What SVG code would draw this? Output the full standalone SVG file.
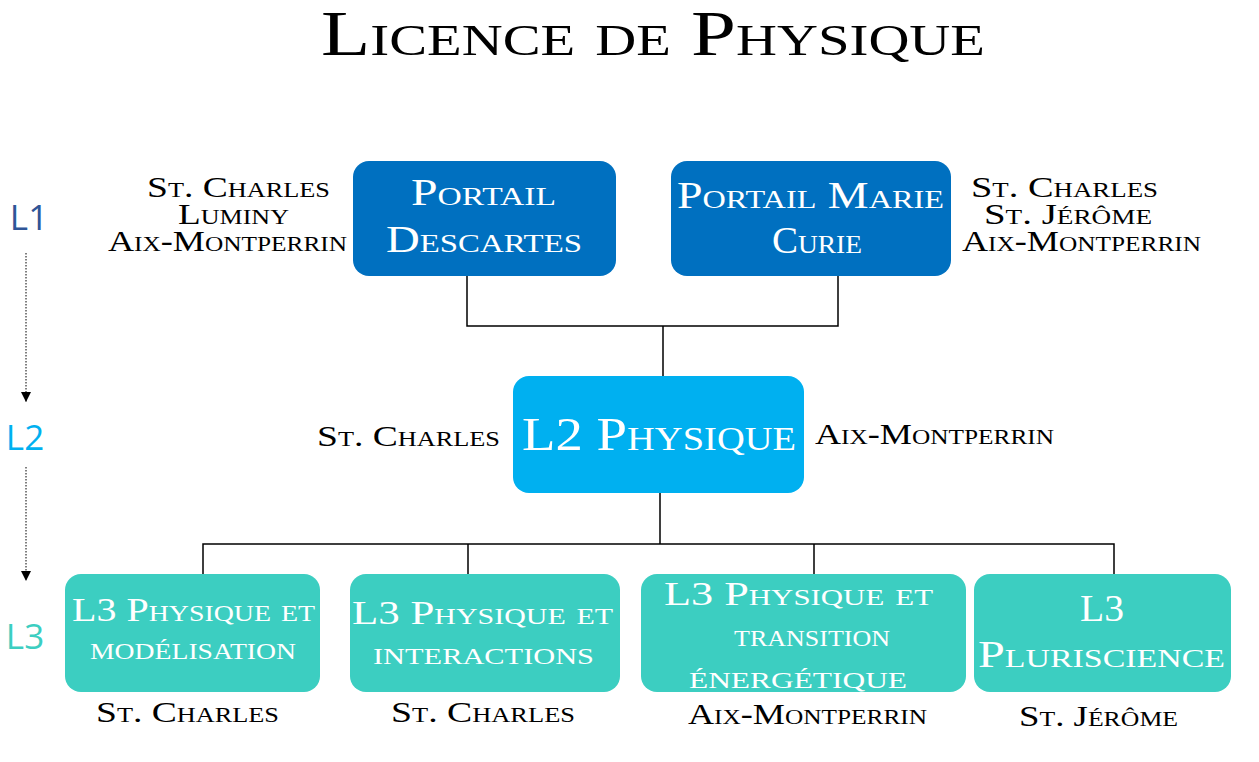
<svg xmlns="http://www.w3.org/2000/svg" width="1259" height="762" viewBox="0 0 1259 762">
<defs>
<style>
.sc{font-family:"Liberation Serif","DejaVu Serif",serif;font-variant:small-caps;}
.lab{font-size:30px;fill:#000;}
.in{fill:#fff;}
.lvl{font-family:"Open Sans","Liberation Sans",sans-serif;font-size:35px;}
.c{stroke:#000;stroke-width:1.5;fill:none;}
.dot{stroke:#000;stroke-width:1;stroke-dasharray:1.5 1.5;fill:none;}
.b1{fill:#0070C0;}
.b2{fill:#00B0F0;}
.b3{fill:#3CCEC1;}
</style>
<marker id="ah" viewBox="0 0 10 10" refX="10" refY="5" markerWidth="10" markerHeight="10" markerUnits="userSpaceOnUse" orient="auto">
<path d="M0,0 L10,5 L0,10 Z" fill="#000"/>
</marker>
</defs>
<rect width="1259" height="762" fill="#fff"/>
<text class="sc" x="321" y="55" font-size="64" textLength="664" lengthAdjust="spacingAndGlyphs">Licence de Physique</text>

<g id="levels">
<text class="lvl" x="29" y="230" text-anchor="middle" fill="#2F5597">L1</text>
<text class="lvl" x="25" y="450" text-anchor="middle" fill="#00B0F0">L2</text>
<text class="lvl" x="25" y="649" text-anchor="middle" fill="#3CCEC1">L3</text>
<path class="dot" d="M26,253 V402" marker-end="url(#ah)"/>
<path class="dot" d="M26,467 V581" marker-end="url(#ah)"/>
</g>

<g id="connectors">
<path class="c" d="M467,276 V326 H838 V276 M663,326 V376"/>
<path class="c" d="M660,493 V544 M203,574 V544 H1114 V574 M468,544 V574 M814,544 V574"/>
</g>

<g id="portail-descartes">
<rect class="b1" x="353" y="161" width="263" height="115" rx="16"/>
<text class="sc in" x="411" y="205" font-size="37" textLength="145" lengthAdjust="spacingAndGlyphs">Portail</text>
<text class="sc in" x="386" y="252" font-size="37" textLength="196" lengthAdjust="spacingAndGlyphs">Descartes</text>
<text class="sc lab" x="147" y="197" textLength="183" lengthAdjust="spacingAndGlyphs">St. Charles</text>
<text class="sc lab" x="178" y="224" textLength="111" lengthAdjust="spacingAndGlyphs">Luminy</text>
<text class="sc lab" x="108" y="251" textLength="239" lengthAdjust="spacingAndGlyphs">Aix-Montperrin</text>
</g>

<g id="portail-marie-curie">
<rect class="b1" x="671" y="161" width="280" height="115" rx="16"/>
<text class="sc in" x="677" y="208" font-size="37" textLength="267" lengthAdjust="spacingAndGlyphs">Portail Marie</text>
<text class="sc in" x="772" y="253" font-size="37" textLength="90" lengthAdjust="spacingAndGlyphs">Curie</text>
<text class="sc lab" x="971" y="197" textLength="187" lengthAdjust="spacingAndGlyphs">St. Charles</text>
<text class="sc lab" x="984" y="224" textLength="168" lengthAdjust="spacingAndGlyphs">St. Jérôme</text>
<text class="sc lab" x="962" y="251" textLength="239" lengthAdjust="spacingAndGlyphs">Aix-Montperrin</text>
</g>

<g id="l2-physique">
<rect class="b2" x="513" y="376" width="291" height="117" rx="16"/>
<text class="sc in" x="522" y="450" font-size="47" textLength="274" lengthAdjust="spacingAndGlyphs">L2 Physique</text>
<text class="sc lab" x="317" y="446" textLength="183" lengthAdjust="spacingAndGlyphs">St. Charles</text>
<text class="sc lab" x="815" y="444" textLength="239" lengthAdjust="spacingAndGlyphs">Aix-Montperrin</text>
</g>

<g id="l3-modelisation">
<rect class="b3" x="65" y="574" width="255" height="118" rx="16"/>
<text class="sc in" x="72" y="621" font-size="33" textLength="243" lengthAdjust="spacingAndGlyphs">L3 Physique et</text>
<text class="sc in" x="90" y="659" font-size="33" textLength="206" lengthAdjust="spacingAndGlyphs">modélisation</text>
<text class="sc lab" x="96" y="722" textLength="183" lengthAdjust="spacingAndGlyphs">St. Charles</text>
</g>

<g id="l3-interactions">
<rect class="b3" x="350" y="574" width="270" height="118" rx="16"/>
<text class="sc in" x="352" y="624" font-size="33" textLength="261" lengthAdjust="spacingAndGlyphs">L3 Physique et</text>
<text class="sc in" x="373" y="664" font-size="33" textLength="221" lengthAdjust="spacingAndGlyphs">interactions</text>
<text class="sc lab" x="391" y="722" textLength="184" lengthAdjust="spacingAndGlyphs">St. Charles</text>
</g>

<g id="l3-transition">
<rect class="b3" x="641" y="574" width="325" height="118" rx="16"/>
<text class="sc in" x="664" y="605" font-size="33" textLength="269" lengthAdjust="spacingAndGlyphs">L3 Physique et</text>
<text class="sc in" x="734" y="646" font-size="33" textLength="156" lengthAdjust="spacingAndGlyphs">transition</text>
<text class="sc in" x="689" y="688" font-size="33" textLength="218" lengthAdjust="spacingAndGlyphs">énergétique</text>
<text class="sc lab" x="688" y="724" textLength="239" lengthAdjust="spacingAndGlyphs">Aix-Montperrin</text>
</g>

<g id="l3-pluriscience">
<rect class="b3" x="974" y="574" width="257" height="118" rx="16"/>
<text class="sc in" x="1080" y="621" font-size="37" textLength="44" lengthAdjust="spacingAndGlyphs">L3</text>
<text class="sc in" x="978" y="667" font-size="37" textLength="247" lengthAdjust="spacingAndGlyphs">Pluriscience</text>
<text class="sc lab" x="1019" y="726" textLength="159" lengthAdjust="spacingAndGlyphs">St. Jérôme</text>
</g>
</svg>
